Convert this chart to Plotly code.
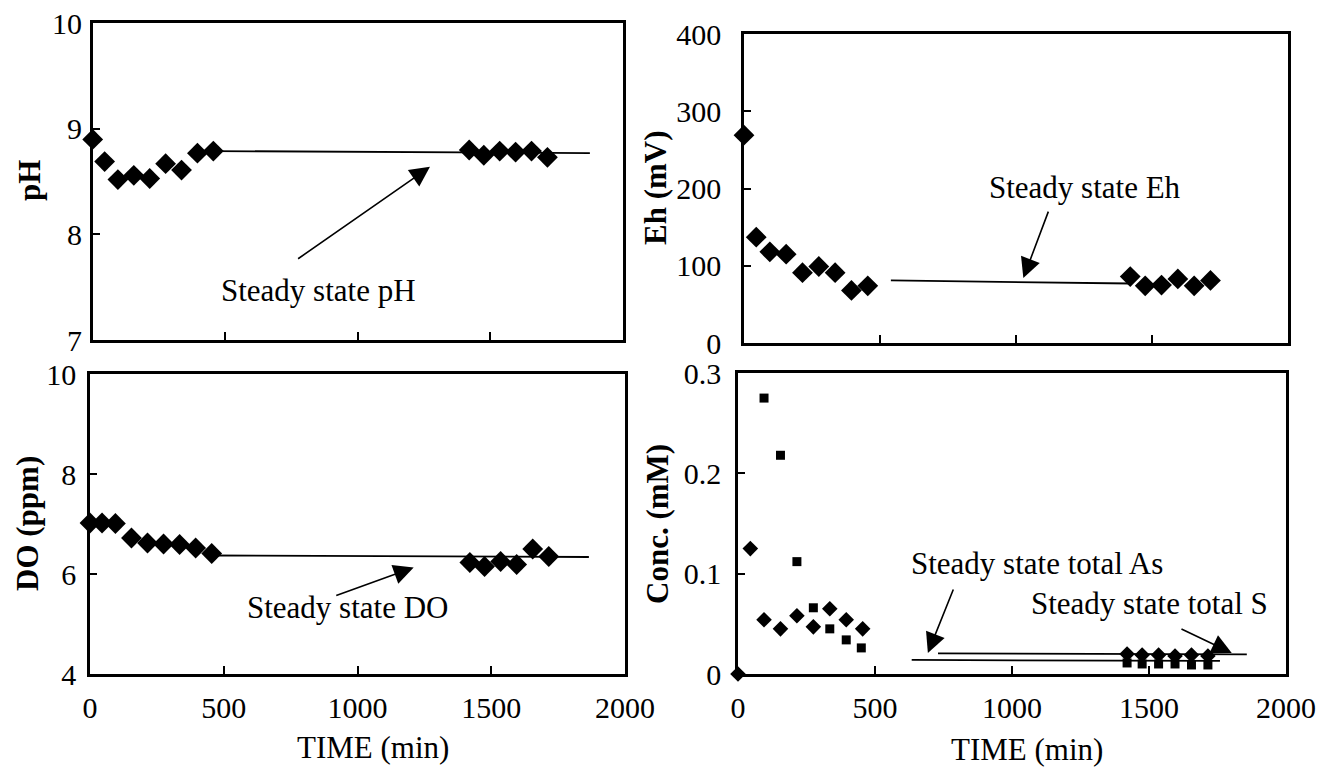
import plotly.graph_objects as go

W, H = 1327, 769
SHIFT = 8  # the page body adds an 8 px offset; pixel positions below are page positions
FONT = "Liberation Serif, Times New Roman, serif"
BLACK = "#000000"

# sampling times (min)
TIME_EARLY = [0, 45, 95, 155, 215, 275, 335, 395, 455]
TIME_LATE = [1420, 1475, 1535, 1595, 1655, 1715]

# pH
PH_EARLY = [8.90, 8.69, 8.52, 8.56, 8.53, 8.67, 8.61, 8.77, 8.79]
PH_LATE = [8.80, 8.75, 8.79, 8.78, 8.79, 8.73]
PH_STEADY_T = [455, 1875]
PH_STEADY = [8.79, 8.77]

# Eh (mV)
EH_EARLY = [269, 137, 118, 115, 91, 99, 91, 68, 74]
EH_LATE = [86, 74, 75, 83, 74, 81]
EH_STEADY_T = [540, 1420]
EH_STEADY = [81, 77]

# DO (ppm)
DO_EARLY = [7.02, 7.02, 7.01, 6.72, 6.62, 6.60, 6.59, 6.52, 6.41]
DO_LATE = [6.23, 6.15, 6.25, 6.19, 6.50, 6.35]
DO_STEADY_T = [455, 1865]
DO_STEADY = [6.37, 6.34]

# Conc. (mM)
AS_EARLY = [0.0, 0.125, 0.054, 0.045, 0.058, 0.047, 0.065, 0.054, 0.045]
AS_LATE = [0.020, 0.019, 0.019, 0.018, 0.019, 0.018]
S_TIME_EARLY = [95, 155, 215, 275, 335, 395, 450]
S_EARLY = [0.275, 0.218, 0.112, 0.066, 0.045, 0.034, 0.026]
S_LATE = [0.011, 0.010, 0.010, 0.010, 0.009, 0.009]
AS_STEADY_T = [730, 1857]
AS_STEADY = [0.0205, 0.0195]
S_STEADY_T = [634, 1759]
S_STEADY = [0.0140, 0.0130]


def px_x(a, b):
    return [(a - SHIFT) / W, (b - SHIFT) / W]


def px_y(top, bottom):
    return [1 - (bottom - SHIFT) / H, 1 - (top - SHIFT) / H]


def _xaxis(domain, anchor, labels):
    return dict(
        domain=domain, anchor=anchor, range=[0, 2000], dtick=500,
        showline=True, linewidth=2.6, linecolor=BLACK, mirror=True,
        ticks="inside", ticklen=8, tickwidth=1.5, tickcolor=BLACK,
        showticklabels=labels, ticklabelstandoff=5, automargin=False,
        ticklabeloverflow="allow",
        showgrid=False, zeroline=False,
        tickfont=dict(family=FONT, size=30, color=BLACK),
    )


def _yaxis(domain, anchor, rng, dtick, standoff):
    return dict(
        domain=domain, anchor=anchor, range=rng, dtick=dtick,
        showline=True, linewidth=2.6, linecolor=BLACK, mirror=True,
        ticks="inside", ticklen=7, tickwidth=1.5, tickcolor=BLACK,
        ticklabelstandoff=standoff, automargin=False,
        ticklabeloverflow="allow",
        showgrid=False, zeroline=False,
        tickfont=dict(family=FONT, size=30, color=BLACK),
    )


def markers(x, y, ax, symbol="diamond", size=15):
    return go.Scatter(
        x=x, y=y, xaxis=ax[0], yaxis=ax[1], mode="markers",
        marker=dict(symbol=symbol, size=size, color=BLACK, line=dict(width=0)),
        cliponaxis=False, showlegend=False,
    )


def steady(x, y, ax):
    return go.Scatter(
        x=x, y=y, xaxis=ax[0], yaxis=ax[1], mode="lines",
        line=dict(color=BLACK, width=1.8), showlegend=False,
    )


def arrow(ax, head, tail):
    return dict(
        xref=ax[0], yref=ax[1], axref=ax[0], ayref=ax[1],
        x=head[0], y=head[1], ax=tail[0], ay=tail[1],
        text="", showarrow=True, arrowhead=2, arrowsize=2.5,
        arrowwidth=1.6, arrowcolor=BLACK, standoff=0,
    )


def label(ax, pos, text):
    return dict(
        xref=ax[0], yref=ax[1], x=pos[0], y=pos[1], text=text,
        xanchor="center", yanchor="middle",
        showarrow=False, font=dict(family=FONT, size=31, color=BLACK),
    )


def title(x_px, y_px, text, angle=0, bold=True):
    return dict(
        xref="paper", yref="paper",
        x=(x_px - SHIFT) / W, y=1 - (y_px - SHIFT) / H,
        xanchor="center", yanchor="middle",
        text=f"<b>{text}</b>" if bold else text, textangle=angle,
        showarrow=False, font=dict(family=FONT, size=31, color=BLACK),
    )


A1, A2, A3, A4 = ("x", "y"), ("x2", "y2"), ("x3", "y3"), ("x4", "y4")

fig = go.Figure()
fig.add_trace(steady(PH_STEADY_T, PH_STEADY, A1))
fig.add_trace(markers(TIME_EARLY + TIME_LATE, PH_EARLY + PH_LATE, A1, size=16))
fig.add_trace(steady(EH_STEADY_T, EH_STEADY, A2))
fig.add_trace(markers(TIME_EARLY + TIME_LATE, EH_EARLY + EH_LATE, A2, size=16))
fig.add_trace(steady(DO_STEADY_T, DO_STEADY, A3))
fig.add_trace(markers(TIME_EARLY + TIME_LATE, DO_EARLY + DO_LATE, A3, size=16))
fig.add_trace(steady(AS_STEADY_T, AS_STEADY, A4))
fig.add_trace(steady(S_STEADY_T, S_STEADY, A4))
fig.add_trace(markers(S_TIME_EARLY + TIME_LATE, S_EARLY + S_LATE, A4, "square", 9))
fig.add_trace(markers(TIME_EARLY + TIME_LATE, AS_EARLY + AS_LATE, A4, "diamond", 12))

annotations = [
    arrow(A1, (1272, 8.64), (769, 7.76)),
    label(A1, (850, 7.47), "Steady state pH"),
    arrow(A2, (1027, 84), (1121, 172)),
    label(A2, (1254, 201), "Steady state Eh"),
    arrow(A3, (1210, 6.13), (915, 5.56)),
    label(A3, (962, 5.33), "Steady state DO"),
    arrow(A4, (693, 0.021), (788, 0.0857)),
    label(A4, (1091, 0.110), "Steady state total As"),
    arrow(A4, (1802, 0.021), (1613, 0.0456)),
    label(A4, (1503, 0.070), "Steady state total S"),
    title(29, 181, "pH", -90),
    title(655, 188, "Eh (mV)", -90),
    title(27, 524, "DO (ppm)", -90),
    title(657, 524, "Conc. (mM)", -90),
    title(373, 747, "TIME (min)", bold=False),
    title(1027, 749, "TIME (min)", bold=False),
]

fig.update_layout(
    width=W, height=H,
    margin=dict(l=0, r=0, t=0, b=0, autoexpand=False),
    template="plotly_white",
    paper_bgcolor="white", plot_bgcolor="white",
    showlegend=False,
    xaxis=_xaxis(px_x(92.7, 623), "y", False),
    yaxis=_yaxis(px_y(23.3, 340), "x", [7, 10], 1, 2),
    xaxis2=_xaxis(px_x(744, 1288), "y2", False),
    yaxis2=_yaxis(px_y(34, 343), "x2", [0, 400], 100, 14),
    xaxis3=_xaxis(px_x(90, 625), "y3", True),
    yaxis3=_yaxis(px_y(374, 674), "x3", [4, 10], 2, 5),
    xaxis4=_xaxis(px_x(738, 1286), "y4", True),
    yaxis4=_yaxis(px_y(373, 674), "x4", [0, 0.3], 0.1, 8),
    annotations=annotations,
)

fig.write_html("out.html")
